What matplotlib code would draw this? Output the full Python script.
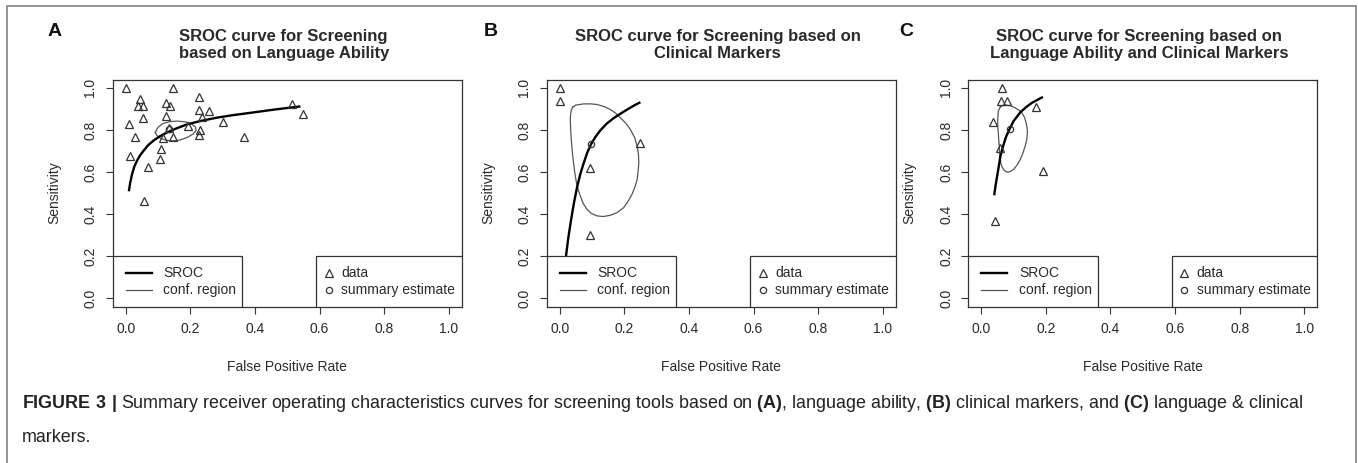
import matplotlib
matplotlib.use("Agg")
from matplotlib import pyplot as plt
from matplotlib.patches import Rectangle

plt.rcParams['font.family'] = ['Liberation Sans', 'DejaVu Sans']
plt.rcParams['mathtext.fontset'] = 'custom'
plt.rcParams['mathtext.rm'] = 'Liberation Sans'
plt.rcParams['mathtext.bf'] = 'Liberation Sans:bold'

# --- panel A: language ability ---
a_fpr = [0.000, 0.045, 0.037, 0.055, 0.055, 0.011, 0.029, 0.015, 0.069, 0.058,
         0.146, 0.126, 0.137, 0.125, 0.135, 0.117, 0.148, 0.110, 0.107, 0.226,
         0.228, 0.257, 0.236, 0.302, 0.230, 0.227, 0.192, 0.366, 0.516, 0.550]
a_sens = [1.000, 0.947, 0.913, 0.913, 0.858, 0.826, 0.767, 0.677, 0.625, 0.461,
          1.000, 0.929, 0.913, 0.864, 0.810, 0.763, 0.768, 0.711, 0.660, 0.959,
          0.893, 0.890, 0.861, 0.839, 0.798, 0.775, 0.817, 0.767, 0.924, 0.874]
a_summary = (0.133, 0.803)
a_sroc_fpr = [0.010, 0.014, 0.020, 0.027, 0.035, 0.045, 0.055, 0.070, 0.086, 0.105,
              0.127, 0.155, 0.189, 0.230, 0.281, 0.330, 0.384, 0.460, 0.541]
a_sroc_sens = [0.508, 0.548, 0.590, 0.626, 0.653, 0.680, 0.700, 0.728, 0.749, 0.769,
               0.787, 0.806, 0.826, 0.842, 0.858, 0.870, 0.881, 0.897, 0.912]
a_conf_fpr = [0.092, 0.097, 0.108, 0.125, 0.145, 0.168, 0.190, 0.208, 0.218, 0.216,
              0.205, 0.186, 0.162, 0.138, 0.115, 0.100, 0.092]
a_conf_sens = [0.788, 0.773, 0.760, 0.751, 0.748, 0.752, 0.764, 0.780, 0.797, 0.814,
               0.828, 0.838, 0.842, 0.840, 0.830, 0.812, 0.788]

# --- panel B: clinical markers ---
b_fpr = [0.000, 0.002, 0.250, 0.093, 0.093]
b_sens = [1.000, 0.938, 0.739, 0.620, 0.300]
b_summary = (0.097, 0.731)
b_sroc_fpr = [0.015, 0.020, 0.027, 0.035, 0.044, 0.054, 0.064, 0.074, 0.085, 0.097,
              0.110, 0.126, 0.145, 0.167, 0.190, 0.209, 0.230, 0.250]
b_sroc_sens = [0.140, 0.204, 0.288, 0.368, 0.450, 0.528, 0.590, 0.640, 0.690, 0.731,
               0.765, 0.798, 0.829, 0.856, 0.879, 0.897, 0.916, 0.932]
b_conf_fpr = [0.040, 0.050, 0.074, 0.096, 0.116, 0.138, 0.157, 0.174, 0.188, 0.205,
              0.219, 0.232, 0.240, 0.244, 0.245, 0.243, 0.240, 0.233, 0.224, 0.212,
              0.198, 0.178, 0.157, 0.135, 0.116, 0.098, 0.085, 0.073, 0.064, 0.057,
              0.052, 0.047, 0.043, 0.039, 0.036, 0.034, 0.033, 0.034, 0.036, 0.040]
b_conf_sens = [0.908, 0.918, 0.924, 0.924, 0.921, 0.911, 0.897, 0.879, 0.858, 0.832,
               0.802, 0.764, 0.723, 0.684, 0.644, 0.604, 0.565, 0.528, 0.494, 0.461,
               0.430, 0.407, 0.394, 0.388, 0.391, 0.403, 0.422, 0.450, 0.486, 0.518,
               0.549, 0.596, 0.644, 0.700, 0.755, 0.805, 0.850, 0.875, 0.893, 0.908]

# --- panel C: language ability and clinical markers ---
c_fpr = [0.065, 0.062, 0.080, 0.169, 0.037, 0.059, 0.191, 0.044]
c_sens = [1.000, 0.940, 0.937, 0.907, 0.840, 0.714, 0.604, 0.367]
c_summary = (0.088, 0.805)
c_sroc_fpr = [0.040, 0.045, 0.051, 0.059, 0.067, 0.077, 0.088, 0.100, 0.121, 0.140,
              0.157, 0.175, 0.191]
c_sroc_sens = [0.489, 0.542, 0.596, 0.672, 0.720, 0.768, 0.805, 0.842, 0.884, 0.910,
               0.929, 0.944, 0.957]
c_conf_fpr = [0.059, 0.069, 0.080, 0.093, 0.105, 0.117, 0.126, 0.134, 0.139, 0.142,
              0.143, 0.141, 0.136, 0.129, 0.121, 0.111, 0.100, 0.090, 0.081, 0.072,
              0.066, 0.061, 0.059, 0.057, 0.056, 0.054, 0.053, 0.051, 0.051, 0.053, 0.059]
c_conf_sens = [0.910, 0.917, 0.918, 0.914, 0.905, 0.894, 0.881, 0.860, 0.834, 0.810,
               0.786, 0.755, 0.723, 0.690, 0.660, 0.633, 0.612, 0.602, 0.599, 0.606,
               0.620, 0.638, 0.660, 0.690, 0.723, 0.755, 0.786, 0.818, 0.850, 0.889, 0.910]

titles = ["SROC curve for Screening\nbased on Language Ability",
          "SROC curve for Screening based on\nClinical Markers",
          "SROC curve for Screening based on\nLanguage Ability and Clinical Markers"]
letters = ["A", "B", "C"]
ticks = [0.0, 0.2, 0.4, 0.6, 0.8, 1.0]
tick_labels = ["0.0", "0.2", "0.4", "0.6", "0.8", "1.0"]

panels = [
    (a_fpr, a_sens, a_summary, a_sroc_fpr, a_sroc_sens, a_conf_fpr, a_conf_sens),
    (b_fpr, b_sens, b_summary, b_sroc_fpr, b_sroc_sens, b_conf_fpr, b_conf_sens),
    (c_fpr, c_sens, c_summary, c_sroc_fpr, c_sroc_sens, c_conf_fpr, c_conf_sens),
]

W, H = 1358, 463
fig = plt.figure(figsize=(W / 100, H / 100), dpi=100)

ax_lefts = [112.7, 546.7, 968.3]
letter_x = [48, 484, 899]
dark = '#2a2a2a'
tri_ms = 6

for i, (fpr, sens, summ, sx, sy, cx, cy) in enumerate(panels):
    ax = fig.add_axes([ax_lefts[i] / W, (H - 306.5) / H, 349 / W, 227 / H])
    ax.set_xlim(-0.04, 1.04)
    ax.set_ylim(-0.04, 1.04)

    ax.plot(cx, cy, color='#555555', lw=0.9, zorder=2)
    ax.plot(sx, sy, color='black', lw=1.7, zorder=3, solid_capstyle='butt')
    ax.plot(fpr, sens, linestyle='none', marker='^', ms=tri_ms, mfc='none',
            mec='#333333', mew=0.9, zorder=4)
    ax.plot([summ[0]], [summ[1]], linestyle='none', marker='o', ms=4.5, mfc='none',
            mec='#333333', mew=0.9, zorder=4)

    # legends, R style boxes sitting on the bottom of the plot region
    ax.add_patch(Rectangle((-0.04, -0.04), 0.4016, 0.24, facecolor='white',
                           edgecolor='#333333', lw=0.9, zorder=5))
    ax.add_patch(Rectangle((0.589, -0.04), 0.451, 0.24, facecolor='white',
                           edgecolor='#333333', lw=0.9, zorder=5))
    ax.plot([0.0, 0.081], [0.118, 0.118], color='black', lw=1.7, zorder=6)
    ax.plot([0.0, 0.081], [0.039, 0.039], color='#555555', lw=0.9, zorder=6)
    ax.text(0.117, 0.118, "SROC", fontsize=10, va='center', color=dark, zorder=6)
    ax.text(0.117, 0.039, "conf. region", fontsize=10, va='center', color=dark, zorder=6)
    ax.plot([0.628], [0.118], marker='^', ms=tri_ms, mfc='none', mec='#333333',
            mew=0.9, zorder=6)
    ax.plot([0.628], [0.039], marker='o', ms=4.5, mfc='none', mec='#333333',
            mew=0.9, zorder=6)
    ax.text(0.667, 0.118, "data", fontsize=10, va='center', color=dark, zorder=6)
    ax.text(0.667, 0.039, "summary estimate", fontsize=10, va='center', color=dark, zorder=6)

    for sp in ax.spines.values():
        sp.set_color('#333333')
        sp.set_linewidth(0.9)
    ax.set_xticks(ticks)
    ax.set_xticklabels(tick_labels)
    ax.set_yticks(ticks)
    ax.set_yticklabels(tick_labels, rotation=90, va='center')
    ax.tick_params(direction='out', length=5, width=0.8, color='#333333',
                   labelcolor=dark, labelsize=10, pad=6)

    ax.set_xlabel("False Positive Rate", fontsize=10, color=dark)
    ax.xaxis.set_label_coords(0.5, -0.267)
    ax.xaxis.label.set_va('center')
    ax.set_ylabel("Sensitivity", fontsize=10, color=dark)
    ax.yaxis.set_label_coords(-0.168, 0.5)
    ax.yaxis.label.set_va('center')

    ax.text(0.49, 1.152, titles[i], transform=ax.transAxes, ha='center', va='center',
            fontsize=12, fontweight='bold', color=dark, linespacing=1.15)
    fig.text(letter_x[i] / W, 1 - 31.5 / H, letters[i], fontsize=14,
             fontweight='bold', color='#111111', va='center', ha='left')

# grey frame of the figure
fig.add_artist(Rectangle((7 / W, -0.05), (1356 - 7) / W, 1.05 - 6 / H,
                         transform=fig.transFigure, fill=False,
                         edgecolor='#8a8a8a', lw=1.3))

caption1 = (r"$\bf{FIGURE\ 3\ |}$ Summary receiver operating characteristics curves for "
            r"screening tools based on $\bf{(A)}$, language ability, $\bf{(B)}$ clinical "
            r"markers, and $\bf{(C)}$ language & clinical")
fig.text(22 / W, 1 - 403 / H, caption1, fontsize=12.9, color='#222222', va='center')
fig.text(22 / W, 1 - 437 / H, "markers.", fontsize=12.9, color='#222222', va='center')

fig.savefig("out.png", dpi=100)
